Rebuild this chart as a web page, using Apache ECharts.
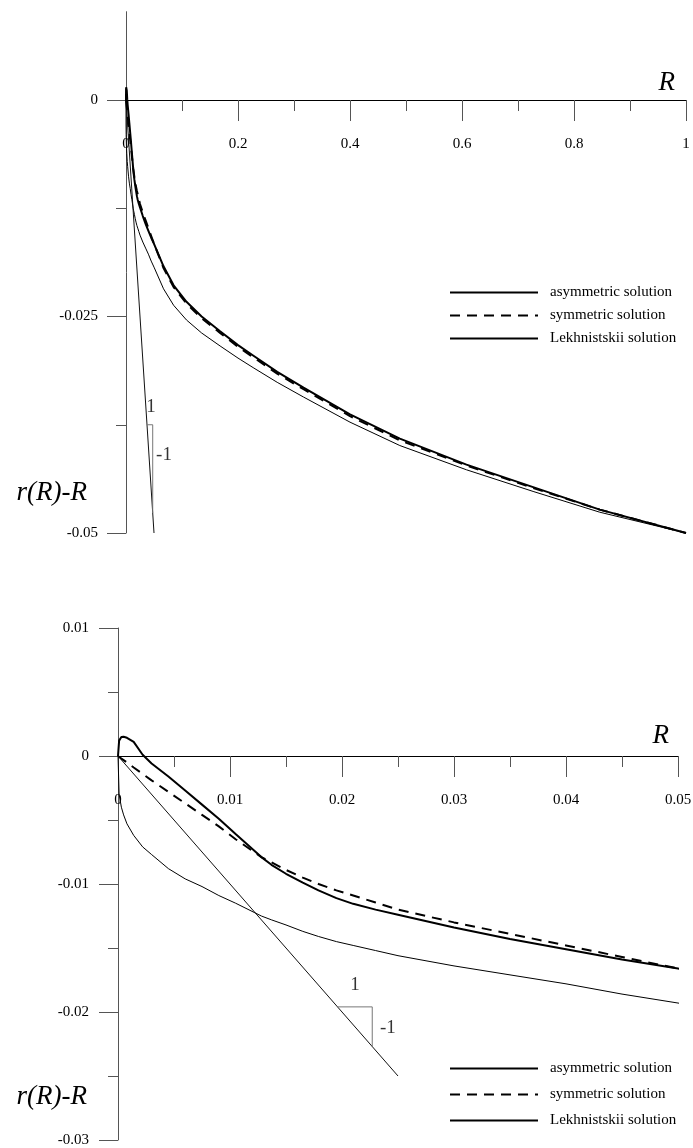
<!DOCTYPE html>
<html>
<head>
<meta charset="utf-8">
<script src="https://cdn.jsdelivr.net/npm/echarts@6/dist/echarts.min.js"></script>
<style>html,body{margin:0;padding:0;background:#fff;}#c{width:693px;height:1148px;}</style>
</head>
<body>
<div id="c"></div>
<script>
// ---- data ----
var R = [0, 0.0001, 0.0003, 0.0005, 0.0008, 0.0014, 0.0022, 0.003, 0.0045, 0.006, 0.0075, 0.009, 0.0105, 0.0128, 0.0137, 0.015, 0.0165, 0.0179, 0.0195, 0.021, 0.023, 0.025, 0.03, 0.035, 0.04, 0.045, 0.05, 0.067, 0.085, 0.108, 0.135, 0.168, 0.2, 0.227, 0.27, 0.317, 0.4, 0.489, 0.608, 0.727, 0.846, 1.0];
var asym = [0, 0.0012, 0.00148, 0.0015, 0.00142, 0.0011, 0.0001, -0.00058, -0.0016, -0.0027, -0.0038, -0.0049, -0.0061, -0.0079, -0.0085, -0.0092, -0.0099, -0.0105, -0.0111, -0.01155, -0.0120, -0.0124, -0.0134, -0.0143, -0.0151, -0.0159, -0.0166, -0.0192, -0.0214, -0.0233, -0.0250, -0.0267, -0.0283, -0.0295, -0.0314, -0.0332, -0.0363, -0.0391, -0.0421, -0.0447, -0.0473, -0.0500];
var sym = [0, -0.00006, -0.0002, -0.00032, -0.0005, -0.0009, -0.0014, -0.0019, -0.0028, -0.0037, -0.0046, -0.0055, -0.0065, -0.0079, -0.0083, -0.0089, -0.0095, -0.0100, -0.0105, -0.0109, -0.01145, -0.0120, -0.0130, -0.0139, -0.0148, -0.0157, -0.0166, -0.0194, -0.0216, -0.0235, -0.0252, -0.0269, -0.0285, -0.0297, -0.0316, -0.0334, -0.0365, -0.0393, -0.0422, -0.0448, -0.0473, -0.0500];
var lekh = [0, -0.0030, -0.0040, -0.0046, -0.0053, -0.0062, -0.0071, -0.0077, -0.0088, -0.0096, -0.0102, -0.0109, -0.0115, -0.0125, -0.0128, -0.0132, -0.0137, -0.0141, -0.0145, -0.0148, -0.0152, -0.0156, -0.0164, -0.0171, -0.0178, -0.0186, -0.0193, -0.0218, -0.0237, -0.0254, -0.0269, -0.0284, -0.0298, -0.0309, -0.0326, -0.0343, -0.0372, -0.0399, -0.0427, -0.0452, -0.0476, -0.0500];

var slopeTop = [[0, 0], [0.05, -0.05]];
var triTop = [[0.0375, -0.0375], [0.0477, -0.0375], [0.0477, -0.0477]];
var slopeTextTop = [{value: [0.0446, -0.0354], name: '1'}, {value: [0.0679, -0.0410], name: '-1'}];
var slopeBot = [[0, 0], [0.025, -0.025]];
var triBot = [[0.0196, -0.0196], [0.0227, -0.0196], [0.0227, -0.0227]];
var slopeTextBot = [{value: [0.02116, -0.01789], name: '1'}, {value: [0.0241, -0.02125], name: '-1'}];

var topXMajor = [0, 0.2, 0.4, 0.6, 0.8, 1];
var topXMinor = [0.1, 0.3, 0.5, 0.7, 0.9];
var topYMajor = [0, -0.025, -0.05];
var topYMinor = [-0.0125, -0.0375];
var botXMajor = [0, 0.01, 0.02, 0.03, 0.04, 0.05];
var botXMinor = [0.005, 0.015, 0.025, 0.035, 0.045];
var botYMajor = [0.01, 0, -0.01, -0.02, -0.03];
var botYMinor = [0.005, -0.005, -0.015, -0.025];

var names = ['asymmetric solution', 'symmetric solution', 'Lekhnistskii solution'];

// ---- chart ----
var FONT = 'Liberation Serif';
function pairs(xs, ys) { return xs.map(function (x, i) { return [x, ys[i]]; }); }
function fmt(v) { return String(+(+v).toFixed(4)); }

function xAxes(grid, min, max, major, minor, nameGap, namePad, labMargin) {
  return [{
    type: 'value', gridIndex: grid, min: min, max: max, position: 'bottom',
    name: 'R', nameLocation: 'end', nameGap: nameGap,
    nameTextStyle: {fontFamily: FONT, fontStyle: 'italic', fontSize: 27, color: '#000', align: 'right', verticalAlign: 'bottom', padding: [0, 0, namePad, 0]},
    axisLine: {show: true, onZero: true, lineStyle: {color: '#000', width: 1}},
    axisTick: {show: true, customValues: major, length: 21, lineStyle: {color: '#555', width: 1}},
    axisLabel: {show: true, customValues: major, margin: labMargin, formatter: fmt, fontFamily: FONT, fontSize: 15, color: '#000', verticalAlign: 'top'},
    splitLine: {show: false}
  }, {
    type: 'value', gridIndex: grid, min: min, max: max, position: 'bottom',
    axisLine: {show: false, onZero: true},
    axisTick: {show: true, customValues: minor, length: 11, lineStyle: {color: '#555', width: 1}},
    axisLabel: {show: false},
    splitLine: {show: false}
  }];
}
function yAxes(grid, min, max, major, minor, nameGap, namePad, labMargin) {
  return [{
    type: 'value', gridIndex: grid, min: min, max: max, position: 'left',
    name: 'r(R)-R', nameLocation: 'start', nameGap: nameGap,
    nameTextStyle: {fontFamily: FONT, fontStyle: 'italic', fontSize: 27, color: '#000', align: 'right', verticalAlign: 'middle', padding: [0, namePad, 0, 0]},
    axisLine: {show: true, onZero: true, lineStyle: {color: '#555', width: 1}},
    axisTick: {show: true, customValues: major, length: 19, lineStyle: {color: '#555', width: 1}},
    axisLabel: {show: true, customValues: major, margin: labMargin, formatter: fmt, fontFamily: FONT, fontSize: 15, color: '#000'},
    splitLine: {show: false}
  }, {
    type: 'value', gridIndex: grid, min: min, max: max, position: 'left',
    axisLine: {show: false, onZero: true},
    axisTick: {show: true, customValues: minor, length: 10, lineStyle: {color: '#555', width: 1}},
    axisLabel: {show: false},
    splitLine: {show: false}
  }];
}

function curveSeries(xi, yi, slope, tri, texts) {
  return [
    {name: names[2], type: 'line', xAxisIndex: xi, yAxisIndex: yi, data: pairs(R, lekh), showSymbol: false, symbol: 'none', lineStyle: {color: '#000', width: 1}, itemStyle: {color: '#000'}, z: 2},
    {name: names[1], type: 'line', xAxisIndex: xi, yAxisIndex: yi, data: pairs(R, sym), showSymbol: false, symbol: 'none', lineStyle: {color: '#000', width: 2, type: [10, 7]}, itemStyle: {color: '#000'}, z: 3},
    {name: names[0], type: 'line', xAxisIndex: xi, yAxisIndex: yi, data: pairs(R, asym), showSymbol: false, symbol: 'none', lineStyle: {color: '#000', width: 2}, itemStyle: {color: '#000'}, z: 4},
    {type: 'line', xAxisIndex: xi, yAxisIndex: yi, data: slope, symbol: 'none', lineStyle: {color: '#111', width: 1}, z: 2},
    {type: 'line', xAxisIndex: xi, yAxisIndex: yi, data: tri, symbol: 'none', lineStyle: {color: '#777', width: 1}, z: 2},
    {type: 'scatter', xAxisIndex: xi, yAxisIndex: yi, data: texts, symbolSize: 0,
     label: {show: true, position: 'inside', formatter: '{b}', fontFamily: FONT, fontSize: 19, color: '#000'}, z: 5}
  ];
}

function legend(top, gap) {
  return {
    data: names, orient: 'vertical', left: 444, top: top, itemWidth: 88, itemHeight: 14, itemGap: gap,
    selectedMode: false,
    itemStyle: {opacity: 0},
    textStyle: {fontFamily: FONT, fontSize: 15, color: '#000', padding: [0, 0, 0, 7]}
  };
}

var chart = echarts.init(document.getElementById('c'), null, {renderer: 'canvas'});
chart.setOption({
  animation: false,
  backgroundColor: '#fff',
  grid: [
    {left: 126, width: 560, top: 11.7, height: 521.3, outerBoundsMode: 'none', containLabel: false},
    {left: 118, width: 560, top: 628, height: 512, outerBoundsMode: 'none', containLabel: false}
  ],
  legend: [legend(280, 8), legend(1056, 11)],
  xAxis: xAxes(0, 0, 1, topXMajor, topXMinor, -11, 4, -396).concat(xAxes(1, 0, 0.05, botXMajor, botXMinor, -9, 7, -347)),
  yAxis: yAxes(0, -0.05, 0.0102, topYMajor, topYMinor, -40, 39, 28).concat(yAxes(1, -0.03, 0.01, botYMajor, botYMinor, -43, 31, 29)),
  series: curveSeries(0, 0, slopeTop, triTop, slopeTextTop).concat(curveSeries(2, 2, slopeBot, triBot, slopeTextBot))
});
</script>
</body>
</html>
